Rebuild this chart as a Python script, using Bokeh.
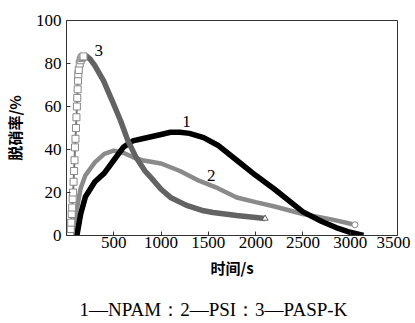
from bokeh.plotting import figure
from bokeh.embed import file_html
from bokeh.resources import INLINE
from bokeh.models import FixedTicker, Title
from bokeh.core.properties import value

# Curve 1: NPAM
t1 = [110, 150, 200, 300, 400, 500, 600, 700, 800, 1000, 1100, 1200, 1300, 1450, 1600, 1800, 2000, 2200, 2500, 2700, 2850, 3000, 3140]
r1 = [0, 10, 18, 25, 29, 35, 41, 44, 45, 47, 48, 48, 47.5, 45.5, 42, 35, 28, 21.5, 11, 6.5, 3.7, 1.5, 0]

# Curve 2: PSI
t2 = [70, 100, 150, 200, 300, 400, 500, 600, 700, 800, 1000, 1200, 1400, 1600, 1800, 2000, 2200, 2500, 2800, 3050]
r2 = [0, 10, 22, 28, 34, 38, 39.5, 38.5, 36.5, 35, 33.5, 30, 25.5, 22, 17.7, 15.5, 13.5, 10, 7.5, 5]

# Curve 3: PASP-K (rising part shown with open squares)
t3_rise = [40, 45, 50, 55, 60, 65, 70, 75, 80, 85, 90, 95, 100, 105, 110, 114, 118, 122, 125, 130, 140, 150, 160, 170, 180]
r3_rise = [0, 3, 6, 10, 13, 17, 20, 25, 30, 35, 41, 45, 50, 55, 60, 64, 68, 72, 75, 77, 80, 81.5, 82.5, 83, 83.3]
t3 = [180, 205, 250, 300, 391, 480, 571, 650, 740, 830, 920, 1000, 1100, 1270, 1450, 1550, 1800, 2100]
r3 = [83.3, 83.7, 82, 79, 72, 63, 53.5, 44, 36, 30, 25.6, 21.5, 17.7, 14, 11.5, 10.7, 9.3, 7.9]

x_ticks = [500, 1000, 1500, 2000, 2500, 3000, 3500]
y_ticks = [0, 20, 40, 60, 80, 100]

serif = "Liberation Serif"
cjk = "Noto Sans CJK SC"

p = figure(frame_width=331, frame_height=215, output_backend="svg", toolbar_location=None,
           x_range=(0, 3500), y_range=(0, 100),
           min_border_left=63, min_border_right=13, min_border_top=20, min_border_bottom=80)
p.grid.visible = False
p.outline_line_color = "#333333"
p.outline_line_width = 1
p.background_fill_color = "white"
p.border_fill_color = "white"

for ax in (p.xaxis[0], p.yaxis[0]):
    ax.major_tick_in = 4
    ax.major_tick_out = 0
    ax.minor_tick_in = 0
    ax.minor_tick_out = 0
    ax.axis_line_color = "#333333"
    ax.major_tick_line_color = "#333333"
    ax.major_label_text_font = serif
    ax.major_label_text_font_size = "17px"
    ax.major_label_text_color = "black"
    ax.axis_label_text_font = cjk
    ax.axis_label_text_font_size = "15px"
    ax.axis_label_text_font_style = "bold"
    ax.axis_label_text_color = "black"

p.xaxis.ticker = FixedTicker(ticks=x_ticks)
p.yaxis.ticker = FixedTicker(ticks=y_ticks)
p.xaxis.major_label_standoff = 1
p.yaxis.major_label_standoff = 5
p.xaxis.axis_label = "时间/s"
p.yaxis.axis_label = "脱硝率/%"
p.xaxis.axis_label_standoff = 6
p.yaxis.axis_label_standoff = 8

# curves
p.line(t2, r2, line_color="#8a8a8a", line_width=4.5)
p.line(t1, r1, line_color="black", line_width=5.5)
p.line(t3, r3, line_color="#636363", line_width=5.5)
p.line(t3_rise, r3_rise, line_color="#777777", line_width=2)
p.scatter(t3_rise, r3_rise, marker="square", size=7, fill_color="white", line_color="#888888", line_width=1)
p.scatter(t2[-1:], r2[-1:], marker="circle", size=6, fill_color="white", line_color="#8a8a8a", line_width=1)
p.scatter(t3[-1:], r3[-1:], marker="triangle", size=6, fill_color="white", line_color="#636363", line_width=1)

# curve labels
lab_x = [1268, 1530, 340]
lab_y = [53, 28, 86]
lab_t = ["1", "2", "3"]
p.text(lab_x, lab_y, text=lab_t, text_font=value(serif), text_font_size="17px",
       text_align="center", text_baseline="middle", text_color="black")

cap = Title(text="1—NPAM：2—PSI：3—PASP-K", align="left", text_font=serif,
            text_font_size="19px", text_font_style="normal", text_color="black",
            standoff=32, offset=13)
p.add_layout(cap, "below")

open("out.html", "w").write(file_html(p, INLINE))
